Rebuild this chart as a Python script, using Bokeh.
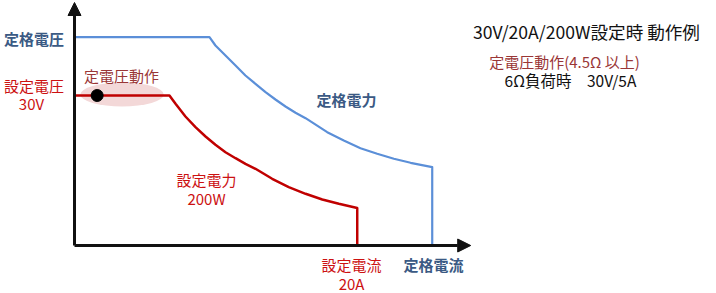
from bokeh.plotting import figure
from bokeh.models import Range1d, Arrow, NormalHead
from bokeh.core.properties import value
from bokeh.embed import file_html
from bokeh.resources import INLINE

# ---- data (current in A, voltage in V) ----
set_current = [0, 6.71, 7.14, 7.84, 8.55, 9.26, 9.96, 10.67, 11.38, 12.08,
               12.79, 13.97, 15.14, 16.33, 17.51, 18.68, 19.98, 19.98]
set_voltage = [30, 30, 28.34, 25.8, 23.66, 21.8, 20.14, 18.66, 17.46, 16.34,
               15.34, 13.34, 11.66, 10.34, 9.2, 8.34, 7.5, 0]
rated_current = [0, 9.54, 9.96, 10.67, 11.38, 12.08, 12.79, 13.5, 14.2, 14.91,
                 15.62, 16.33, 17.86, 19.03, 20.21, 21.39, 22.57, 23.75, 25.28, 25.28]
rated_voltage = [41.66, 41.66, 40.0, 38.0, 36.0, 34.0, 32.34, 30.66, 29.2, 27.8,
                 26.54, 25.46, 22.66, 21.0, 19.46, 18.34, 17.34, 16.54, 15.66, 0]
op_point_current = [1.6]
op_point_voltage = [30]

FONT = value("Noto Sans CJK JP")
BLUE_LINE = "#5b8fd8"
BLUE_TEXT = "#3b5a84"
RED_LINE = "#c00000"
RED_TEXT = "#cc1111"
BROWN_TEXT = "#9a3636"

p = figure(width=716, height=293, output_backend="svg", toolbar_location=None,
           x_range=Range1d(-5.23, 45.37), y_range=Range1d(-9.6, 49.0),
           min_border=0, outline_line_color=None)
p.axis.visible = False
p.grid.visible = False
p.background_fill_color = "white"
p.border_fill_color = "white"

# constant-voltage highlight ellipse
p.ellipse(x=[3.36], y=[30.2], width=5.9, height=4.8, fill_color="#f3d8d8",
          line_color=None)

# axes with arrows
p.add_layout(Arrow(x_start=0, y_start=0, x_end=0, y_end=48.6, line_width=3,
                   line_color="#111111",
                   end=NormalHead(size=13, fill_color="#111111", line_color="#111111")))
p.add_layout(Arrow(x_start=0, y_start=0, x_end=28.0, y_end=0, line_width=3,
                   line_color="#111111",
                   end=NormalHead(size=13, fill_color="#111111", line_color="#111111")))

# rated and set boundaries
p.line(rated_current, rated_voltage, line_color=BLUE_LINE, line_width=2.2,
       line_join="round")
p.line(set_current, set_voltage, line_color=RED_LINE, line_width=2.5,
       line_join="round")

p.scatter(op_point_current, op_point_voltage, size=12, color="black")

def label(x, y, t, color, bold=False, size="15px", align="center"):
    p.text(x=[x], y=[y], text=[t], text_color=color, text_font=FONT,
           text_font_size=size, text_align=align, text_baseline="middle",
           text_font_style="bold" if bold else "normal")

label(-0.75, 41.5, "定格電圧", BLUE_TEXT, bold=True, align="right")
label(-0.75, 32.0, "設定電圧", RED_TEXT, align="right")
label(-3.04, 28.5, "30V", RED_TEXT)
label(3.32, 34.0, "定電圧動作", BROWN_TEXT)
label(19.22, 29.3, "定格電力", BLUE_TEXT, bold=True)
label(9.33, 13.3, "設定電力", RED_TEXT)
label(9.33, 9.5, "200W", RED_TEXT)
label(19.58, -3.7, "設定電流", RED_TEXT)
label(19.58, -7.6, "20A", RED_TEXT)
label(25.37, -3.8, "定格電流", BLUE_TEXT, bold=True)
label(36.18, 42.8, "30V/20A/200W設定時 動作例", "#111111", size="17.6px")
label(34.63, 36.8, "定電圧動作(4.5Ω 以上)", BROWN_TEXT)
label(35.05, 33.2, "6Ω負荷時　30V/5A", "#111111", size="15.5px")

open("out.html", "w").write(file_html(p, INLINE))
